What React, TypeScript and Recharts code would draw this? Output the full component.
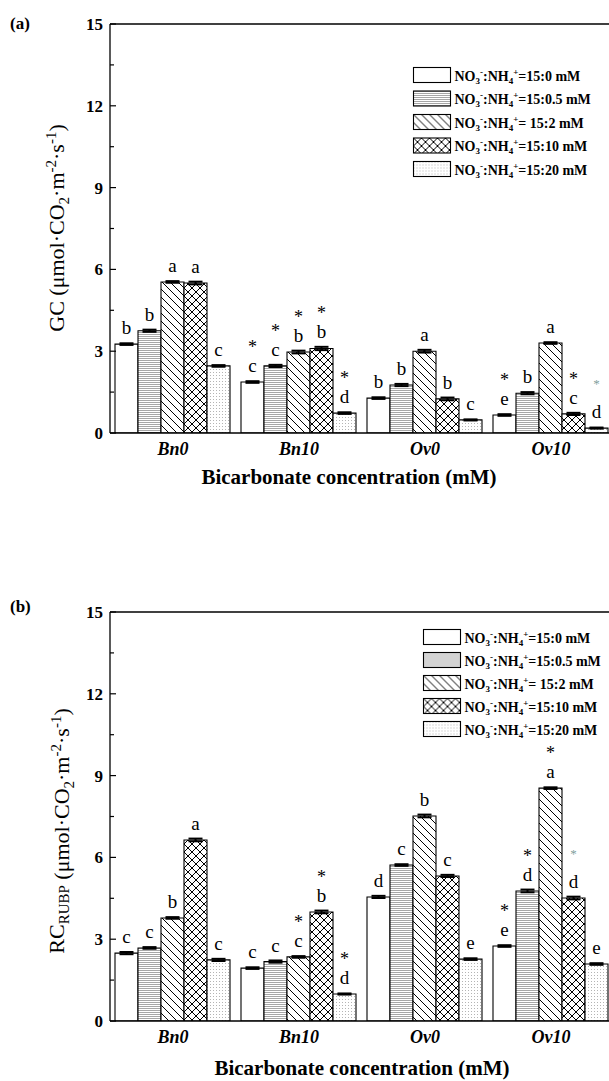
import React from "react";
import { BarChart, Bar, XAxis, YAxis, ErrorBar, LabelList, Legend, ReferenceLine } from "recharts";

const categories = ["Bn0", "Bn10", "Ov0", "Ov10"];
const ratioLabels = ["15:0 mM", "15:0.5 mM", " 15:2 mM", "15:10 mM", "15:20 mM"];
const yTicks = [0, 1.5, 3, 4.5, 6, 7.5, 9, 10.5, 12, 13.5, 15];

// one row per NO3:NH4 ratio, one value per bicarbonate treatment
const gcValues = [
  [3.26, 1.87, 1.28, 0.66],
  [3.75, 2.46, 1.76, 1.46],
  [5.54, 2.97, 3.0, 3.3],
  [5.5, 3.1, 1.25, 0.7],
  [2.46, 0.73, 0.48, 0.18],
];
const gcErrors = [
  [0.03, 0.03, 0.03, 0.03],
  [0.04, 0.04, 0.04, 0.04],
  [0.03, 0.05, 0.05, 0.03],
  [0.05, 0.06, 0.05, 0.04],
  [0.03, 0.03, 0.02, 0.02],
];
const gcLetters = [
  ["b", "c", "b", "e"],
  ["b", "c", "b", "b"],
  ["a", "b", "a", "a"],
  ["a", "b", "b", "c"],
  ["c", "d", "c", "d"],
];
const gcStars = [
  ["", "*", "", "*"],
  ["", "*", "", ""],
  ["", "*", "", ""],
  ["", "*", "", "*"],
  ["", "*", "", "faint"],
];

const rcValues = [
  [2.49, 1.94, 4.55, 2.75],
  [2.68, 2.18, 5.72, 4.77],
  [3.78, 2.35, 7.52, 8.54],
  [6.64, 4.0, 5.32, 4.51],
  [2.24, 0.99, 2.27, 2.09],
];
const rcErrors = [
  [0.04, 0.03, 0.04, 0.03],
  [0.03, 0.04, 0.03, 0.05],
  [0.03, 0.03, 0.05, 0.03],
  [0.05, 0.05, 0.04, 0.05],
  [0.04, 0.02, 0.03, 0.03],
];
const rcLetters = [
  ["c", "c", "d", "e"],
  ["c", "c", "c", "d"],
  ["b", "c", "b", "a"],
  ["a", "b", "c", "d"],
  ["c", "d", "e", "e"],
];
const rcStars = [
  ["", "", "", "*"],
  ["", "", "", "*"],
  ["", "*", "", "*"],
  ["", "*", "", "faint"],
  ["", "*", "", ""],
];

const FONT = "'Liberation Serif', 'Times New Roman', serif";
const patternKeys = ["", "hl", "dg", "cx", "dt"];

const fillFor = (id: string, i: number) => (i === 0 ? "#fff" : `url(#${id}-${patternKeys[i]})`);

function buildRows(values: number[][], errors: number[][], letters: string[][], stars: string[][]) {
  return categories.map((cat, c) => {
    const row: Record<string, string | number> = { cat };
    values.forEach((s, i) => {
      row["v" + i] = s[c];
      row["e" + i] = errors[i][c];
      row["m" + i] = letters[i][c] + "|" + stars[i][c];
    });
    return row;
  });
}

const Patterns = ({ id }: { id: string }) => (
  <defs>
    <pattern id={`${id}-hl`} width="4" height="2" patternUnits="userSpaceOnUse">
      <rect width="4" height="2" fill="#fff" />
      <rect width="4" height="1" fill="#a6a6a6" />
    </pattern>
    <pattern id={`${id}-dg`} width="8" height="8" patternUnits="userSpaceOnUse">
      <rect width="8" height="8" fill="#fff" />
      <path d="M0,0 L8,8 M-1,7 L1,9 M7,-1 L9,1" stroke="#000" strokeWidth="1" />
    </pattern>
    <pattern id={`${id}-cx`} width="8" height="8" patternUnits="userSpaceOnUse">
      <rect width="8" height="8" fill="#fff" />
      <path d="M0,0 L8,8 M-1,7 L1,9 M7,-1 L9,1 M0,8 L8,0 M-1,1 L1,-1 M7,9 L9,7" stroke="#000" strokeWidth="1" />
    </pattern>
    <pattern id={`${id}-dt`} width="3" height="3" patternUnits="userSpaceOnUse">
      <rect width="3" height="3" fill="#fff" />
      <rect width="1" height="1" fill="#b4b4b4" />
    </pattern>
  </defs>
);

const YTick = (props: any) => {
  const { x, y, payload } = props;
  const v = payload.value;
  const major = v % 3 === 0;
  return (
    <g>
      <line x1={x} x2={x + (major ? 6 : 4)} y1={y} y2={y} stroke="#000" strokeWidth={1.2} />
      {major && (
        <text x={x - 7} y={y + 6} textAnchor="end" fontSize={17} fontWeight="bold" fill="#000">
          {v}
        </text>
      )}
    </g>
  );
};

const XTick = (props: any) => {
  const { x, y, payload } = props;
  return (
    <text x={x} y={y + 22} textAnchor="middle" fontSize={18} fontWeight="bold" fontStyle="italic" fill="#000">
      {payload.value}
    </text>
  );
};

const XTitle = ({ cx, cy }: any) => (
  <text x={cx} y={cy} textAnchor="middle" fontSize={21} fontWeight="bold" fill="#000">
    Bicarbonate concentration (mM)
  </text>
);

const Units = () => (
  <>
    <tspan> (μmol·CO</tspan>
    <tspan dy={5} fontSize={15}>2</tspan>
    <tspan dy={-5}>·m</tspan>
    <tspan dy={-8} fontSize={15}>-2</tspan>
    <tspan dy={8}>·s</tspan>
    <tspan dy={-8} fontSize={15}>-1</tspan>
    <tspan dy={8}>)</tspan>
  </>
);

const YTitle = ({ cx, cy, kind }: any) => (
  <text
    x={cx}
    y={cy + 7}
    transform={`rotate(-90 ${cx} ${cy})`}
    textAnchor="middle"
    fontSize={22}
    fill="#000"
  >
    {kind === "gc" ? (
      <tspan>GC</tspan>
    ) : (
      <>
        <tspan>RC</tspan>
        <tspan dy={5} fontSize={15}>RUBP</tspan>
        <tspan dy={-5}></tspan>
      </>
    )}
    <Units />
  </text>
);

const renderMark = (props: any) => {
  const vb = props.viewBox ?? props;
  const x = Number(vb.x);
  const y = Number(vb.y);
  const w = Number(vb.width);
  const [letter, star] = String(props.value ?? "").split("|");
  const cx = x + w / 2;
  const base = y - 10;
  return (
    <g>
      <text x={cx} y={base} textAnchor="middle" fontSize={19} fill="#000">
        {letter}
      </text>
      {star === "*" && (
        <text x={cx} y={base - 19} textAnchor="middle" fontSize={18} fill="#000">
          *
        </text>
      )}
      {star === "faint" && (
        <text x={cx} y={base - 30} textAnchor="middle" fontSize={13} fill="#7f9f9c">
          *
        </text>
      )}
    </g>
  );
};

const LegendBox = ({ id, step }: { id: string; step: number }) => (
  <svg width={200} height={step * 5} style={{ display: "block", overflow: "visible" }}>
    {ratioLabels.map((r, i) => (
      <g key={r} transform={`translate(0.5, ${i * step + 0.5})`}>
        <rect width={37} height={15} fill={fillFor(id, i)} stroke="#000" strokeWidth={1.1} />
        <text x={41} y={13} fontSize={14} fontWeight="bold" fill="#000" fontFamily={FONT}>
          NO
          <tspan dy={3} fontSize={9}>3</tspan>
          <tspan dy={-9} fontSize={9}>-</tspan>
          <tspan dy={6}>:NH</tspan>
          <tspan dy={3} fontSize={9}>4</tspan>
          <tspan dy={-9} fontSize={9}>+</tspan>
          <tspan dy={6}>={r}</tspan>
        </text>
      </g>
    ))}
  </svg>
);

type PanelProps = {
  id: string;
  rows: Record<string, string | number>[];
  kind: string;
  titleY: number;
  xTitleX: number;
  xTitleY: number;
  legendLeft: number;
  legendTop: number;
  legendStep: number;
};

const Panel = ({ id, rows, kind, titleY, xTitleX, xTitleY, legendLeft, legendTop, legendStep }: PanelProps) => (
  <BarChart
    width={630}
    height={520}
    data={rows}
    margin={{ top: 24, right: 16, left: 0, bottom: 0 }}
    barCategoryGap={5}
    barGap={0}
  >
    <Patterns id={id} />
    <XAxis
      dataKey="cat"
      tickLine={false}
      tickSize={0}
      tickMargin={0}
      interval={0}
      tick={<XTick />}
      height={87}
      axisLine={{ stroke: "#000", strokeWidth: 1.3 }}
      label={<XTitle cx={xTitleX} cy={xTitleY} />}
    />
    <YAxis
      domain={[0, 15]}
      ticks={yTicks}
      interval={0}
      tickSize={0}
      tickMargin={0}
      tickLine={false}
      tick={<YTick />}
      width={110}
      allowDataOverflow
      axisLine={{ stroke: "#000", strokeWidth: 1.3 }}
      label={<YTitle cx={57} cy={titleY} kind={kind} />}
    />
    <ReferenceLine y={15} stroke="#000" strokeWidth={1.3} />
    <Legend
      layout="vertical"
      align="center"
      verticalAlign="middle"
      wrapperStyle={{ position: "absolute", left: legendLeft, top: legendTop, width: 200 }}
      content={() => <LegendBox id={id} step={legendStep} />}
    />
    {ratioLabels.map((r, i) => (
      <Bar
        key={r}
        dataKey={"v" + i}
        name={r}
        fill={fillFor(id, i)}
        stroke="#000"
        strokeWidth={1.1}
        isAnimationActive={false}
      >
        <ErrorBar dataKey={"e" + i} width={7} stroke="#000" strokeWidth={2} direction="y" />
        <LabelList dataKey={"m" + i} content={renderMark} />
      </Bar>
    ))}
  </BarChart>
);

export default function App() {
  const gcRows = buildRows(gcValues, gcErrors, gcLetters, gcStars);
  const rcRows = buildRows(rcValues, rcErrors, rcLetters, rcStars);
  const panelLabel: React.CSSProperties = {
    position: "absolute",
    left: 10,
    fontSize: 17,
    fontWeight: "bold",
    lineHeight: "20px",
  };
  return (
    <div
      style={{
        position: "absolute",
        left: 0,
        top: 0,
        width: 609,
        height: 1081,
        overflow: "hidden",
        background: "#fff",
        fontFamily: FONT,
      }}
    >
      <div style={{ position: "absolute", left: 0, top: 0 }}>
        <Panel
          id="a"
          rows={gcRows}
          kind="gc"
          titleY={228}
          xTitleX={349}
          xTitleY={484}
          legendLeft={413}
          legendTop={67}
          legendStep={23.5}
        />
      </div>
      <div style={{ position: "absolute", left: 0, top: 588 }}>
        <Panel
          id="b"
          rows={rcRows}
          kind="rc"
          titleY={243}
          xTitleX={362}
          xTitleY={487}
          legendLeft={423}
          legendTop={41}
          legendStep={23}
        />
      </div>
      <span style={{ ...panelLabel, top: 14 }}>(a)</span>
      <span style={{ ...panelLabel, top: 597 }}>(b)</span>
    </div>
  );
}
